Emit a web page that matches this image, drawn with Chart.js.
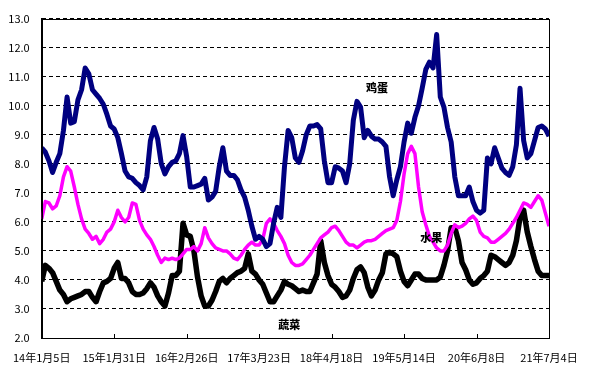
<!DOCTYPE html>
<html>
<head>
<meta charset="utf-8">
<script src="https://cdn.jsdelivr.net/npm/chart.js@4"></script>
<style>
  body { margin: 0; background: #fff; }
  canvas { display: block; }
</style>
</head>
<body>
<canvas id="priceChart" width="600" height="378"></canvas>
<script>
// date labels shown under the axis, one every 20 periods
const dateLabels = ["14年1月5日", "15年1月31日", "16年2月26日", "17年3月23日", "18年4月18日", "19年5月14日", "20年6月8日", "21年7月4日"];
const periodsPerLabel = 20;
const periodIndex = Array.from({ length: 141 }, (_, i) => i);

// 鸡蛋
const eggPrices = [
    8.55, 8.4, 8.1, 7.7, 8.05, 8.35, 9.15, 10.3, 9.4, 9.45, 10.2, 10.55, 11.3, 11.1, 10.55, 10.4, 10.25, 10.05, 9.7, 9.3, 9.2,
    8.9, 8.35, 7.75, 7.55, 7.5, 7.35, 7.25, 7.1, 7.55, 8.8, 9.25, 8.85, 8.0, 7.65, 7.9, 8.05, 8.1, 8.35, 8.97, 8.25,
    7.2, 7.2, 7.25, 7.3, 7.5, 6.75, 6.85, 7.05, 7.9, 8.55, 7.75, 7.6, 7.6, 7.45, 7.1, 6.85, 6.4, 5.85, 5.4, 5.5,
    5.4, 5.15, 5.25, 5.95, 6.5, 6.15, 7.9, 9.15, 8.9, 8.2, 8.05, 8.45, 9.0, 9.3, 9.3, 9.35, 9.2, 8.1, 7.35, 7.35,
    7.9, 7.85, 7.75, 7.35, 8.0, 9.5, 10.15, 9.95, 8.9, 9.15, 8.95, 8.85, 8.85, 8.75, 8.6, 7.55, 6.9, 7.45, 7.9, 8.75,
    9.4, 9.05, 9.6, 10.0, 10.6, 11.25, 11.5, 11.3, 12.45, 10.3, 9.95, 9.25, 8.75, 7.55, 6.9, 6.9, 6.9, 7.2, 6.7, 6.4,
    6.3, 6.4, 8.2, 8.0, 8.55, 8.2, 7.85, 7.7, 7.6, 7.9, 8.65, 10.6, 8.8, 8.2, 8.35, 8.8, 9.25, 9.3, 9.2, 8.95
];

// 水果
const fruitPrices = [
    6.1, 6.7, 6.65, 6.45, 6.55, 6.9, 7.55, 7.9, 7.75, 7.2, 6.6, 6.1, 5.75, 5.6, 5.4, 5.5, 5.25, 5.4, 5.65, 5.75, 6.0,
    6.4, 6.15, 6.0, 6.15, 6.65, 6.6, 6.05, 5.75, 5.55, 5.4, 5.15, 4.85, 4.6, 4.75, 4.7, 4.75, 4.7, 4.75, 4.9, 5.05,
    5.05, 5.15, 5.0, 5.25, 5.8, 5.45, 5.25, 5.1, 5.05, 5.0, 5.0, 4.9, 4.75, 4.7, 4.85, 5.05, 5.2, 5.3, 5.2, 5.2,
    5.4, 5.95, 6.1, 5.95, 5.7, 5.5, 5.25, 4.85, 4.6, 4.5, 4.5, 4.55, 4.7, 4.85, 5.05, 5.25, 5.45, 5.55, 5.65, 5.8,
    5.85, 5.7, 5.5, 5.3, 5.2, 5.2, 5.1, 5.2, 5.3, 5.35, 5.35, 5.4, 5.5, 5.6, 5.7, 5.75, 5.8, 6.05, 6.7, 7.65,
    8.35, 8.6, 8.35, 7.2, 6.35, 5.9, 5.5, 5.3, 5.1, 5.0, 5.0, 5.2, 5.6, 5.9, 5.8, 5.85, 5.95, 6.1, 6.2, 6.05,
    5.65, 5.5, 5.45, 5.3, 5.3, 5.4, 5.5, 5.6, 5.75, 5.95, 6.15, 6.4, 6.65, 6.6, 6.5, 6.7, 6.9, 6.75, 6.3, 5.85
];

// 蔬菜
const vegPrices = [
    3.95, 4.5, 4.4, 4.25, 3.95, 3.65, 3.5, 3.25, 3.35, 3.4, 3.45, 3.5, 3.6, 3.6, 3.4, 3.25, 3.6, 3.9, 3.95, 4.05, 4.4,
    4.6, 4.05, 4.05, 3.9, 3.6, 3.5, 3.5, 3.55, 3.7, 3.9, 3.75, 3.45, 3.25, 3.1, 3.55, 4.15, 4.15, 4.3, 5.95, 5.55,
    5.5, 5.0, 4.1, 3.45, 3.1, 3.1, 3.3, 3.6, 3.95, 4.05, 3.9, 4.05, 4.15, 4.25, 4.3, 4.4, 4.9, 4.3, 4.2, 4.0,
    3.85, 3.55, 3.25, 3.25, 3.45, 3.65, 3.95, 3.85, 3.8, 3.7, 3.6, 3.65, 3.6, 3.6, 3.9, 4.2, 5.35, 4.6, 4.15, 3.85,
    3.75, 3.6, 3.4, 3.45, 3.65, 4.05, 4.35, 4.45, 4.25, 3.75, 3.45, 3.65, 4.0, 4.25, 4.9, 4.95, 4.9, 4.8, 4.3, 3.95,
    3.8, 4.0, 4.2, 4.2, 4.05, 4.0, 4.0, 4.0, 4.0, 4.1, 4.5, 5.0, 5.8, 5.8, 5.35, 4.6, 4.35, 4.0, 3.85, 3.9,
    4.05, 4.15, 4.3, 4.85, 4.8, 4.7, 4.6, 4.5, 4.6, 4.85, 5.35, 6.15, 6.4, 5.65, 5.15, 4.7, 4.3, 4.15, 4.15, 4.15
];

// series names written inside the plot: [text, period, value]
const seriesNames = [
    ["鸡蛋", 92.5, 10.62],
    ["水果", 107.5, 5.45],
    ["蔬菜", 68.3, 2.45]
];

const tickFont = { family: "'Liberation Sans Narrow', 'Noto Sans CJK SC', sans-serif", size: 11 };

// plot frame and the short inward ticks on the date axis
const framePlugin = {
    id: "frame",
    afterDatasetsDraw(chart) {
        const { ctx, chartArea: a, scales } = chart;
        ctx.save();
        ctx.strokeStyle = "#000";
        ctx.lineWidth = 1;
        ctx.strokeRect(Math.round(a.left) + 0.5, Math.round(a.top) + 0.5,
            Math.round(a.right - a.left), Math.round(a.bottom - a.top));
        ctx.beginPath();
        dateLabels.forEach((_, k) => {
            const x = Math.round(scales.x.getPixelForValue(k * periodsPerLabel)) + 0.5;
            ctx.moveTo(x, a.bottom);
            ctx.lineTo(x, a.bottom - 4);
        });
        ctx.stroke();
        ctx.restore();
    }
};

const namePlugin = {
    id: "seriesNames",
    afterDatasetsDraw(chart) {
        const { ctx, scales } = chart;
        ctx.save();
        ctx.fillStyle = "#000";
        ctx.font = "900 11px 'Noto Sans CJK SC'";
        ctx.textAlign = "center";
        ctx.textBaseline = "middle";
        seriesNames.forEach(([text, p, v]) => {
            ctx.fillText(text, scales.x.getPixelForValue(p), scales.y.getPixelForValue(v));
        });
        ctx.restore();
    }
};

function makeSeries(label, data, color, width) {
    return {
        label: label,
        data: data,
        borderColor: color,
        backgroundColor: color,
        borderWidth: width,
        borderJoinStyle: "round",
        pointRadius: 0,
        tension: 0,
        fill: false
    };
}

const priceChart = new Chart(document.getElementById("priceChart"), {
    type: "line",
    data: {
        labels: periodIndex,
        datasets: [
            makeSeries("鸡蛋", eggPrices, "#000080", 5),
            makeSeries("水果", fruitPrices, "#FF00FF", 3.5),
            makeSeries("蔬菜", vegPrices, "#000000", 5.5)
        ]
    },
    options: {
        responsive: false,
        animation: false,
        layout: { padding: { top: 17, right: 51, left: 0, bottom: 0 } },
        plugins: {
            legend: { display: false },
            tooltip: { enabled: false }
        },
        scales: {
            x: {
                type: "linear",
                min: 0,
                max: periodIndex.length - 1,
                grid: { display: false, drawTicks: false },
                border: { display: false },
                afterBuildTicks: (scale) => {
                    scale.ticks = dateLabels.map((_, k) => ({ value: k * periodsPerLabel }));
                },
                ticks: {
                    autoSkip: false,
                    maxRotation: 0,
                    padding: 13,
                    color: "#000",
                    font: tickFont,
                    callback: (v) => dateLabels[Math.round(v / periodsPerLabel)]
                },
                afterFit: (scale) => { scale.height = 40; }
            },
            y: {
                min: 2,
                max: 13,
                grid: { color: "#000", lineWidth: 1, drawTicks: false },
                border: { display: true, color: "#000", dash: [4, 3] },
                ticks: {
                    stepSize: 1,
                    padding: 12,
                    color: "#000",
                    font: tickFont,
                    callback: (v) => v.toFixed(1)
                },
                afterFit: (scale) => { scale.width = 36; }
            }
        }
    },
    plugins: [framePlugin, namePlugin]
});
</script>
</body>
</html>
